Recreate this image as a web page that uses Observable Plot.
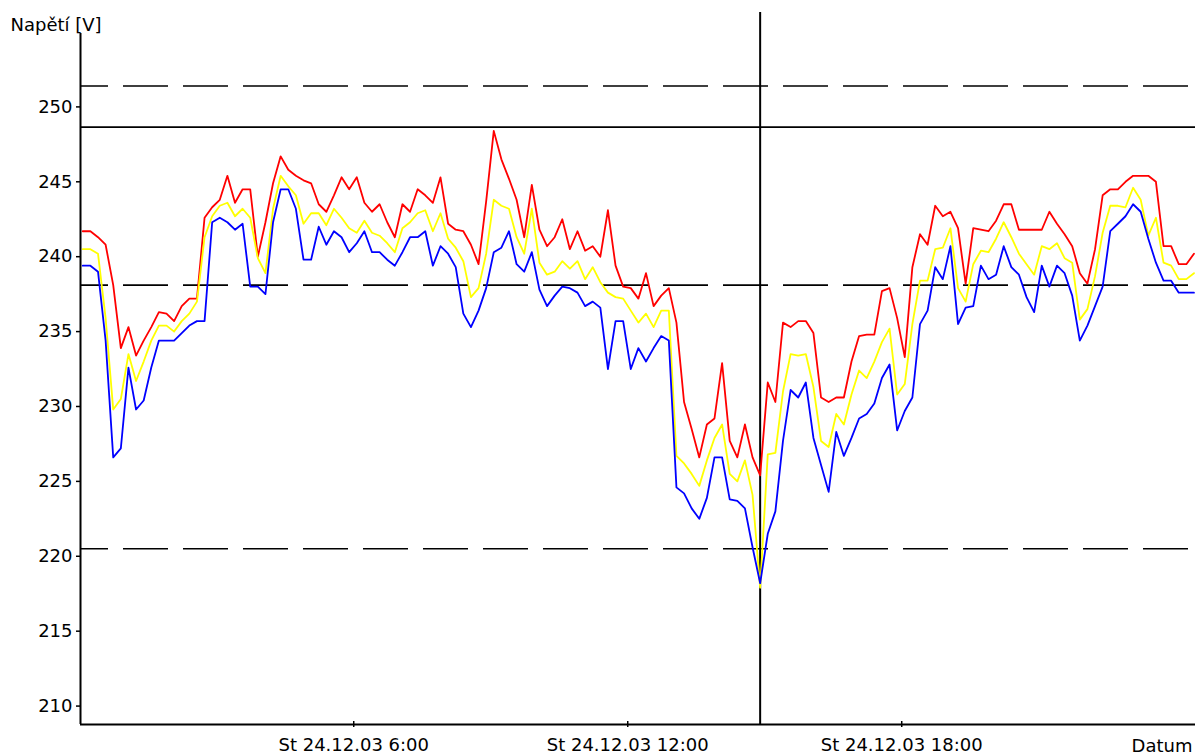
<!DOCTYPE html>
<html><head><meta charset="utf-8">
<script src="https://cdn.jsdelivr.net/npm/d3@7"></script>
<script src="https://cdn.jsdelivr.net/npm/@observablehq/plot@0.6"></script>
<style>html,body{margin:0;padding:0;background:#fff;} svg{display:block;}</style>
</head><body><div id="chart"></div>
<script>
// Voltage readings, 10-minute samples starting St 24.12.03 0:04
const phaseRed = [
241.7,241.7,241.3,240.8,238.1,233.9,235.3,233.4,234.4,235.3,
236.3,236.2,235.7,236.7,237.2,237.2,242.6,243.3,243.8,245.4,
243.6,244.5,244.5,240.0,242.3,244.9,246.7,245.8,245.4,245.1,
244.9,243.5,243.0,244.1,245.3,244.5,245.3,243.6,243.0,243.5,
242.3,241.3,243.5,243.0,244.5,244.1,243.6,245.3,242.2,241.8,
241.7,240.8,239.5,243.7,248.4,246.5,245.2,243.8,241.3,244.8,
241.8,240.7,241.3,242.5,240.5,241.7,240.4,240.7,240.0,243.1,
239.4,238.0,237.9,237.2,238.9,236.7,237.4,237.9,235.6,230.3,
228.5,226.6,228.8,229.2,232.9,227.7,226.6,228.8,226.6,225.4,
231.6,230.3,235.6,235.3,235.7,235.7,234.9,230.6,230.3,230.6,
230.6,233.0,234.7,234.8,234.8,237.7,237.9,235.9,233.3,239.3,
241.5,240.8,243.4,242.7,243.0,241.9,238.2,241.9,241.8,241.7,
242.4,243.5,243.5,241.8,241.8,241.8,241.8,243.0,242.2,241.5,
240.7,238.9,238.2,240.5,244.1,244.5,244.5,245.0,245.4,245.4,
245.4,245.0,240.7,240.7,239.5,239.5,240.2];
const phaseYellow = [
240.5,240.5,240.2,235.9,229.8,230.5,233.5,231.7,233.0,234.4,
235.4,235.4,235.0,235.7,236.2,237.0,241.3,242.7,243.4,243.6,
242.7,243.2,242.6,239.9,238.9,243.2,245.4,244.7,244.1,242.2,
242.9,242.9,242.1,243.2,242.6,241.9,241.6,242.4,241.6,241.4,
240.9,240.3,241.9,242.3,242.9,243.1,241.7,242.9,241.2,240.6,
239.7,237.3,237.9,240.2,243.8,243.4,243.2,241.3,240.2,243.2,
239.6,238.8,239.0,239.7,239.2,239.7,238.5,239.3,238.3,237.6,
237.3,237.2,236.4,235.6,236.2,235.3,236.4,236.4,226.7,226.2,
225.5,224.7,226.4,227.9,228.8,225.5,225.0,226.4,224.1,217.9,
226.8,226.9,231.0,233.5,233.4,233.5,231.3,227.7,227.3,229.5,
228.8,230.8,232.4,231.9,233.0,234.3,235.2,230.8,231.5,235.5,
238.4,238.4,240.5,240.6,241.9,237.9,237.0,239.5,240.4,240.3,
241.2,242.3,241.3,240.2,239.5,238.8,240.7,240.5,240.9,239.9,
239.6,235.8,236.5,238.7,241.6,243.4,243.4,243.3,244.6,243.8,
241.4,242.6,239.6,239.4,238.5,238.5,238.9];
const phaseBlue = [
239.4,239.4,239.0,234.4,226.6,227.2,232.6,229.8,230.4,232.6,
234.4,234.4,234.4,234.9,235.4,235.7,235.7,242.3,242.6,242.3,
241.8,242.2,238.0,238.0,237.5,242.3,244.5,244.5,243.2,239.8,
239.8,242.0,240.8,241.7,241.3,240.3,240.9,241.7,240.3,240.3,
239.8,239.4,240.3,241.3,241.3,241.7,239.4,240.7,240.2,239.3,
236.2,235.3,236.4,237.9,240.3,240.6,241.7,239.5,239.0,240.3,
237.8,236.7,237.4,238.0,237.9,237.6,236.7,237.0,236.6,232.5,
235.7,235.7,232.5,233.9,233.0,233.9,234.7,234.4,224.6,224.2,
223.2,222.5,223.9,226.6,226.6,223.8,223.7,223.2,220.6,218.2,
221.5,223.0,227.7,231.1,230.6,231.6,227.9,226.1,224.3,228.3,
226.7,227.9,229.2,229.5,230.2,231.9,232.8,228.4,229.7,230.6,
235.5,236.4,239.3,238.5,240.7,235.5,236.6,236.7,239.4,238.5,
238.8,240.7,239.3,238.8,237.3,236.3,239.4,238.0,239.4,238.9,
237.4,234.4,235.4,236.7,238.0,241.7,242.2,242.7,243.5,243.0,
241.2,239.6,238.4,238.4,237.6,237.6,237.6];

const seriesNames = ["L1", "L2", "L3"];
const seriesColors = ["#ff0000", "#ffff00", "#0000ff"];
const startTime = Date.UTC(2003, 11, 24, 0, 4);
const stepMinutes = 10;

const yTicks = [210, 215, 220, 225, 230, 235, 240, 245, 250];
const xTickTimes = [new Date(Date.UTC(2003, 11, 24, 6, 0)), new Date(Date.UTC(2003, 11, 24, 12, 0)), new Date(Date.UTC(2003, 11, 24, 18, 0))];
const xTickLabels = ["St 24.12.03 6:00", "St 24.12.03 12:00", "St 24.12.03 18:00"];
const dashedLimits = [251.4, 238.1, 220.5];
const solidLimits = [248.65];
const cursorTime = new Date(Date.UTC(2003, 11, 24, 14, 54));
const yLabel = "Napětí [V]";
const xLabel = "Datum";

const xDomain = [new Date(Date.UTC(2003, 11, 24, 0, 1)), new Date(Date.UTC(2003, 11, 25, 0, 26))];
const yDomain = [208.77, 254.9];
const cursorTop = 256.3;

const rows = [];
[phaseRed, phaseYellow, phaseBlue].forEach((vals, s) => {
  vals.forEach((v, i) => rows.push({series: seriesNames[s], time: new Date(startTime + i * stepMinutes * 60000), value: v}));
});
const labelMap = new Map(xTickTimes.map((t, i) => [+t, xTickLabels[i]]));

const plot = Plot.plot({
  width: 1204, height: 754,
  marginTop: 33, marginBottom: 30, marginLeft: 80, marginRight: 9,
  style: {fontFamily: "'DejaVu Sans', sans-serif", fontSize: "18px", color: "#000", background: "#fff", overflow: "visible"},
  x: {type: "utc", domain: xDomain},
  y: {domain: yDomain},
  color: {domain: seriesNames, range: seriesColors},
  marks: [
    Plot.ruleY(dashedLimits, {stroke: "#000", strokeWidth: 1.6, strokeDasharray: "45,15", strokeDashoffset: 17}),
    Plot.ruleY(solidLimits, {stroke: "#000", strokeWidth: 1.6}),
    Plot.ruleX([cursorTime], {y1: yDomain[0], y2: cursorTop, stroke: "#000", strokeWidth: 2}),
    Plot.line(rows, {x: "time", y: "value", z: "series", stroke: "series", strokeWidth: 1.8}),
    Plot.ruleX([xDomain[0]], {stroke: "#000", strokeWidth: 2}),
    Plot.ruleY([yDomain[0]], {stroke: "#000", strokeWidth: 2}),
    Plot.axisY({ticks: yTicks, tickSize: 4, tickPadding: 4, label: null, tickFormat: d => String(d), strokeWidth: 1.5}),
    Plot.axisX({ticks: xTickTimes, tickSize: 6, dy: -3, tickPadding: 11, tickFormat: d => labelMap.get(+d), label: null, strokeWidth: 1.5}),
    Plot.text([yLabel], {text: d => d, frameAnchor: "top-left", dx: -70, dy: -3, textAnchor: "start", lineAnchor: "bottom"}),
    Plot.text([xLabel], {text: d => d, frameAnchor: "bottom-right", dx: -3, dy: 27, textAnchor: "end", lineAnchor: "bottom"})
  ]
});
document.getElementById("chart").appendChild(plot);
</script>
</body></html>
